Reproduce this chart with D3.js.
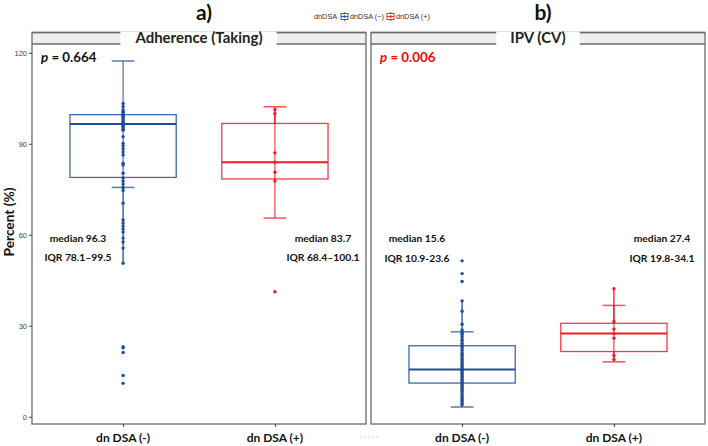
<!DOCTYPE html>
<html><head><meta charset="utf-8">
<script src="https://cdn.jsdelivr.net/npm/d3@7"></script>
<style>body{margin:0;background:#fff}svg{display:block}</style>
</head><body>
<svg id="c" width="708" height="446"></svg>
<script>
// ---------- data ----------
const categories = ["dn DSA (-)", "dn DSA (+)"];
const panelTitles = ["Adherence (Taking)", "IPV (CV)"];
const panelTags = ["a)", "b)"];
const pLabels = ["0.664", "0.006"];
const legendLabels = ["dnDSA (\u2212)", "dnDSA (+)"];
const yTicks = [0, 30, 60, 90, 120];

const adhNeg = [103.3, 102.2, 101.1, 100.6, 100.2, 99.8, 99.4, 99, 98.6, 98.2, 97.8, 97.4, 97, 96.6, 96.3, 96, 95.6, 95.2, 94.8, 94.5,
  92.3, 90.1, 89.3, 88.3, 87.3, 86.3, 83.6, 83.0, 80.3, 78.7, 77.7, 76.7, 75.6, 74.6, 70.4, 64.9, 63.9, 62.9, 61.9, 60.9,
  58.9, 57.6, 55.6, 50.6, 23.1, 22.7, 21.2, 13.6, 11.0];
const adhPos = [101.3, 99.9, 87.0, 83.9, 80.6, 77.7, 41.2];
const ipvNeg = [51.4, 47.2, 44.6, 38.2, 34.8, 30.5, 28.6, 28, 27.5, 27, 26.3, 25.5, 25, 24.2, 23.6, 23, 22.4, 21.8, 21, 20.5,
  20, 19.4, 18.8, 18.2, 17.6, 17, 16.5, 16, 15.6, 15.2, 14.8, 14.3, 13.8, 13.3, 12.8, 12.3, 11.8, 11.3, 10.9, 10.5,
  10, 9.5, 9, 8.4, 7.8, 7.2, 6.6, 6, 5.5, 5, 4.4, 3.9];
const ipvPos = [42.2, 31.4, 28.9, 27.4, 25.9, 20.2, 18.9];

// box stats: [adhNeg, adhPos, ipvNeg, ipvPos]
const q1s = [78.9, 78.4, 11.1, 21.5];
const medians = [96.5, 83.9, 15.6, 27.4];
const q3s = [99.6, 96.7, 23.4, 30.8];
const sdLow = [75.6, 65.5, 3.2, 18.1];
const sdHigh = [117.3, 102.2, 28.0, 36.7];
const medianLabels = ["median 96.3", "median 83.7", "median 15.6", "median 27.4"];
const iqrLabels = ["IQR 78.1\u201399.5", "IQR 68.4\u2013100.1", "IQR 10.9-23.6", "IQR 19.8-34.1"];

// ---------- drawing ----------
const svg = d3.select("#c");
const FONT = "Lato, 'Open Sans', sans-serif";
const colors = ["#1f4f9c", "#ec1c24"];
const series = [[adhNeg, adhPos], [ipvNeg, ipvPos]];

const plotTop = 44, plotBottom = 424, stripTop = 32.5;
const panelX = [[32, 366], [371, 705]];
const y = d3.scaleLinear().domain([-2.4, 122.9]).range([plotBottom, plotTop]);

panelX.forEach((px, pi) => {
  const x = d3.scaleLinear().domain([0.4, 2.6]).range(px);
  const g = svg.append("g");
  // strip
  g.append("rect").attr("x", px[0]).attr("y", stripTop).attr("width", px[1] - px[0]).attr("height", plotTop - stripTop)
    .attr("fill", "#efefef");
  g.append("line").attr("x1", px[0]).attr("x2", px[1]).attr("y1", stripTop).attr("y2", stripTop).attr("stroke", "#6a6a6a").attr("stroke-width", 1.5);
  g.append("line").attr("x1", px[0]).attr("x2", px[1]).attr("y1", plotTop).attr("y2", plotTop).attr("stroke", "#6a6a6a").attr("stroke-width", 1.5);
  // panel border
  g.append("rect").attr("x", px[0]).attr("y", stripTop).attr("width", px[1] - px[0]).attr("height", plotBottom - stripTop)
    .attr("fill", "none").attr("stroke", "#6a6a6a").attr("stroke-width", 1.3);
  // title with white backing
  const cx = (px[0] + px[1]) / 2;
  const t = g.append("text").attr("x", cx).attr("y", 43).attr("text-anchor", "middle")
    .attr("font-family", FONT).attr("font-weight", "bold").attr("font-size", 15).attr("fill", "#222")
    .text(panelTitles[pi]);
  const bb = t.node().getBBox();
  g.insert("rect", "text").attr("x", bb.x - 14).attr("y", stripTop - 1).attr("width", bb.width + 28).attr("height", plotTop - stripTop + 2).attr("fill", "#fff");
  // tag
  svg.append("text").attr("x", cx + 5).attr("y", 20).attr("text-anchor", "middle").attr("font-family", FONT)
    .attr("font-weight", "bold").attr("font-size", 21).attr("fill", "#111").text(panelTags[pi]);
  // p value
  const pt = g.append("text").attr("x", px[0] + 9).attr("y", 62).attr("font-family", FONT).attr("font-weight", "bold")
    .attr("font-size", 13.3).attr("fill", pi === 0 ? "#111" : "#ff0000");
  pt.append("tspan").attr("font-style", "italic").text("p");
  pt.append("tspan").text(" = " + pLabels[pi]);

  // x axis ticks
  const xa = g.append("g").attr("transform", `translate(0,${plotBottom})`)
    .call(d3.axisBottom(x).tickValues([1, 2]).tickSize(3).tickFormat(""));
  xa.select(".domain").remove();
  xa.selectAll("line").attr("stroke", "#444");
  categories.forEach((c, ci) => {
    g.append("text").attr("x", x(ci + 1)).attr("y", 441.5).attr("text-anchor", "middle").attr("font-family", FONT)
      .attr("font-weight", "bold").attr("font-size", 12).attr("fill", "#111").text(c);
  });

  // y axis on first panel
  if (pi === 0) {
    const ya = g.append("g").attr("transform", `translate(${px[0]},0)`)
      .call(d3.axisLeft(y).tickValues(yTicks).tickSize(3).tickPadding(2));
    ya.select(".domain").remove();
    ya.selectAll("line").attr("stroke", "#444");
    ya.selectAll("text").attr("font-family", "'Liberation Sans', Arial, sans-serif").attr("font-size", 7.5).attr("fill", "#444");
  }

  // boxes
  series[pi].forEach((vals, gi) => {
    const k = pi * 2 + gi;
    const col = colors[gi];
    const cxg = x(gi + 1);
    const q1 = q1s[k], q3 = q3s[k], iqr = q3 - q1;
    const inside = vals.filter(v => v >= q1 - 1.5 * iqr && v <= q3 + 1.5 * iqr);
    const outl = vals.filter(v => v < q1 - 1.5 * iqr || v > q3 + 1.5 * iqr);
    const wLo = d3.min(inside), wHi = d3.max(inside);
    // errorbar (mean ± sd)
    const cw = (x(1.075) - x(1));
    g.append("line").attr("x1", cxg).attr("x2", cxg).attr("y1", y(sdLow[k])).attr("y2", y(sdHigh[k])).attr("stroke", col).attr("stroke-width", 1.3).attr("opacity", 0.75);
    [sdLow[k], sdHigh[k]].forEach(v => g.append("line").attr("x1", cxg - cw).attr("x2", cxg + cw).attr("y1", y(v)).attr("y2", y(v))
      .attr("stroke", col).attr("stroke-width", 1.5).attr("opacity", 0.75));
    // whiskers
    g.append("line").attr("x1", cxg).attr("x2", cxg).attr("y1", y(q3)).attr("y2", y(wHi)).attr("stroke", col).attr("stroke-width", 1.3);
    g.append("line").attr("x1", cxg).attr("x2", cxg).attr("y1", y(q1)).attr("y2", y(wLo)).attr("stroke", col).attr("stroke-width", 1.3);
    // box
    const bw = x(1.35) - x(1);
    g.append("rect").attr("x", cxg - bw).attr("y", y(q3)).attr("width", 2 * bw).attr("height", y(q1) - y(q3))
      .attr("fill", "none").attr("stroke", col).attr("stroke-width", 1.3).attr("opacity", 0.85);
    g.append("line").attr("x1", cxg - bw).attr("x2", cxg + bw).attr("y1", y(medians[k])).attr("y2", y(medians[k]))
      .attr("stroke", col).attr("stroke-width", 2);
    // points
    g.selectAll(null).data(inside.concat(outl)).enter().append("circle")
      .attr("cx", cxg).attr("cy", d => y(d)).attr("r", 1.7).attr("fill", col);
    // labels
    const lx = gi === 0 ? px[0] + 46 : px[1] - 43;
    g.append("text").attr("x", lx).attr("y", 242).attr("text-anchor", "middle").attr("font-family", FONT)
      .attr("font-weight", "bold").attr("font-size", 10.3).attr("fill", "#111").text(medianLabels[k]);
    g.append("text").attr("x", lx).attr("y", pi === 0 ? 260.5 : 262).attr("text-anchor", "middle").attr("font-family", FONT)
      .attr("font-weight", "bold").attr("font-size", 10.3).attr("fill", "#111").text(iqrLabels[k]);
  });
});

// y axis title
svg.append("text").attr("transform", "translate(14,222) rotate(-90)").attr("text-anchor", "middle")
  .attr("font-family", FONT).attr("font-weight", "bold").attr("font-size", 13.7).attr("fill", "#111").text("Percent (%)");

// legend
const lg = svg.append("g").attr("font-family", "'Liberation Sans', Arial, sans-serif").attr("font-size", 7.3).attr("fill", "#333");
lg.append("text").attr("x", 314).attr("y", 19).text("dnDSA");
[[341, 350], [387, 396]].forEach((p, i) => {
  const kg = lg.append("g");
  kg.append("line").attr("x1", p[0] + 3.5).attr("x2", p[0] + 3.5).attr("y1", 12).attr("y2", 21).attr("stroke", colors[i]).attr("stroke-width", 0.8);
  kg.append("rect").attr("x", p[0]).attr("y", 13.5).attr("width", 7).attr("height", 6).attr("fill", "#fff").attr("stroke", colors[i]).attr("stroke-width", 0.9);
  kg.append("line").attr("x1", p[0]).attr("x2", p[0] + 7).attr("y1", 16.5).attr("y2", 16.5).attr("stroke", colors[i]).attr("stroke-width", 0.9);
  kg.append("circle").attr("cx", p[0] + 3.5).attr("cy", 16.5).attr("r", 1.2).attr("fill", colors[i]);
  lg.append("text").attr("x", p[1]).attr("y", 19).text(legendLabels[i]);
});

// faint dash artifact
svg.append("line").attr("x1", 360).attr("x2", 380).attr("y1", 437).attr("y2", 437).attr("stroke", "#c8c8c8")
  .attr("stroke-width", 0.8).attr("stroke-dasharray", "2,2");
</script>
</body></html>
